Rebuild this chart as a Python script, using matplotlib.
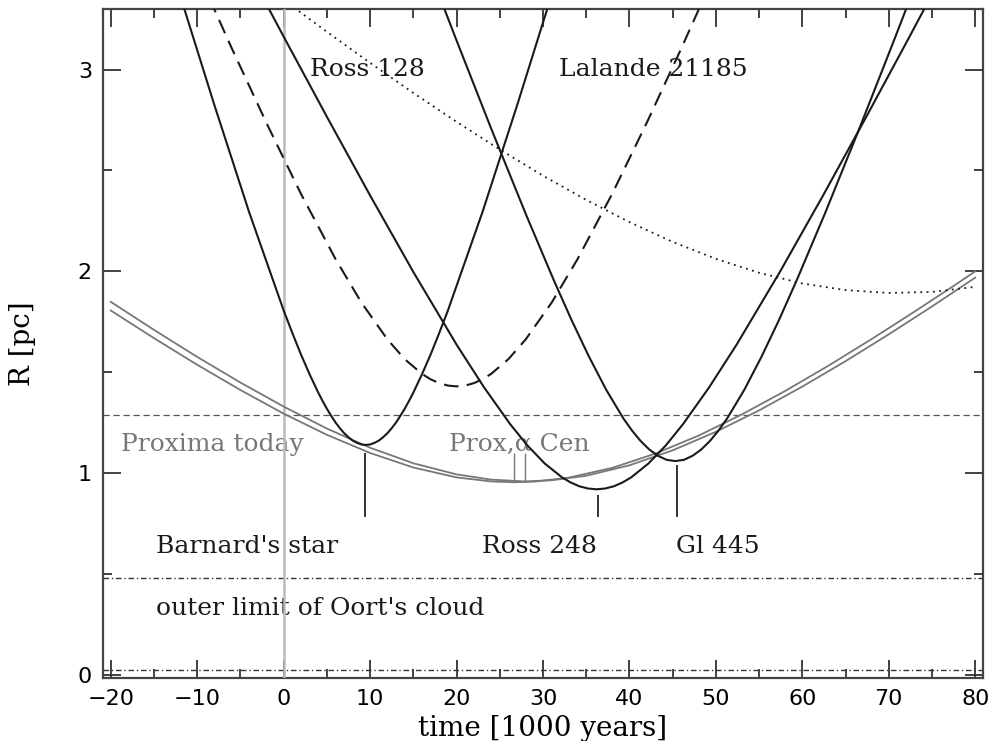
import matplotlib
matplotlib.use("Agg")
import matplotlib.pyplot as plt
from matplotlib.ticker import MultipleLocator

# ---- data (time in 1000 years, R in pc) ----
barnard_t = [-12, -8, -4, 0, 1, 2, 3, 4, 4.5, 5, 5.5, 6, 6.5, 7, 7.5, 8, 8.5, 9, 9.5, 10, 10.5, 11,
             11.5, 12, 12.5, 13, 13.5, 14, 14.5, 15, 16, 17, 18, 19, 23, 27, 31]
barnard_r = [3.370, 2.822, 2.294, 1.806, 1.695, 1.588, 1.490, 1.399, 1.358, 1.319, 1.284, 1.251, 1.223,
             1.198, 1.178, 1.161, 1.150, 1.142, 1.140, 1.142, 1.150, 1.161, 1.178, 1.198, 1.223, 1.251,
             1.284, 1.319, 1.358, 1.399, 1.490, 1.588, 1.695, 1.806, 2.294, 2.822, 3.370]

lalande_t = [-10, -6, -2, 2, 6, 9, 12, 14, 16, 17, 18, 19, 20, 21, 22, 23, 24, 26, 28, 31, 34, 38, 42, 46, 50]
lalande_r = [3.487, 3.105, 2.736, 2.384, 2.061, 1.845, 1.663, 1.565, 1.492, 1.465, 1.446, 1.434, 1.430,
             1.434, 1.446, 1.465, 1.492, 1.565, 1.663, 1.845, 2.061, 2.384, 2.736, 3.105, 3.487]

ross248_t = [-4, 0, 5, 10, 15, 20, 23.2, 26.2, 28.2, 30.2, 32.2, 33.2, 34.2, 35.2, 36.2, 37.2, 38.2,
             39.2, 40.2, 42.2, 44.2, 46.2, 49.2, 52.4, 57.4, 62.4, 67.4, 72.4, 76.4]
ross248_r = [3.485, 3.163, 2.766, 2.376, 1.997, 1.637, 1.424, 1.243, 1.137, 1.048, 0.979, 0.954, 0.935,
             0.924, 0.920, 0.924, 0.935, 0.954, 0.979, 1.048, 1.137, 1.243, 1.424, 1.637, 1.997, 2.376,
             2.766, 3.163, 3.485]

gl445_t = [16, 20, 24, 28, 31.3, 33.3, 35.3, 37.3, 39.3, 40.3, 41.3, 42.3, 43.3, 44.3, 45.3, 46.3, 47.3,
           48.3, 49.3, 50.3, 51.3, 53.3, 55.3, 57.3, 59.3, 62.6, 66.6, 70.6, 74.6]
gl445_r = [3.588, 3.144, 2.708, 2.285, 1.951, 1.759, 1.579, 1.414, 1.271, 1.211, 1.159, 1.117, 1.086,
           1.066, 1.060, 1.066, 1.086, 1.117, 1.159, 1.211, 1.271, 1.414, 1.579, 1.759, 1.951, 2.285,
           2.708, 3.144, 3.588]

ross128_t = [0, 5, 10, 15, 20, 25, 30, 35, 40, 45, 50, 55, 60, 65, 70, 75, 80]
ross128_r = [3.345, 3.187, 3.033, 2.884, 2.741, 2.604, 2.474, 2.354, 2.244, 2.146, 2.062,
             1.993, 1.940, 1.907, 1.893, 1.898, 1.923]

proxima_t = [-20, -15, -10, -5, 0, 5, 10, 15, 20, 24, 26.6, 29, 33, 38, 43, 48, 53, 58, 63, 68, 73, 78, 80]
proxima_r = [1.806, 1.669, 1.537, 1.412, 1.295, 1.190, 1.100, 1.028, 0.979, 0.959, 0.955, 0.958,
             0.978, 1.026, 1.097, 1.186, 1.291, 1.407, 1.532, 1.664, 1.801, 1.942, 2.000]

alphacen_t = [-20, -15, -10, -5, 0, 5, 10, 15, 20, 24, 27.9, 31, 35, 40, 45, 50, 55, 60, 65, 70, 75, 80]
alphacen_r = [1.849, 1.710, 1.576, 1.449, 1.330, 1.221, 1.126, 1.049, 0.994, 0.968, 0.959, 0.965,
              0.987, 1.039, 1.113, 1.205, 1.311, 1.429, 1.555, 1.688, 1.826, 1.969]

proxima_today = 1.29
oort_limit = 0.48
bottom_line = 0.025

# closest-approach markers
marker_t = [9.44, 36.4, 45.5]
marker_top = [1.10, 0.89, 1.04]
marker_bottom = [0.785, 0.785, 0.785]
prox_marker_t = [26.6, 27.9]
prox_marker_top = [1.10, 1.10]
prox_marker_bottom = [0.955, 0.959]

xticks = [-20, -10, 0, 10, 20, 30, 40, 50, 60, 70, 80]
yticks = [0, 1, 2, 3]

# ---- figure ----
fig = plt.figure(figsize=(9.94, 7.41), dpi=100)
ax = fig.add_axes([103 / 994, 1 - 678 / 741, (983 - 103) / 994, (678 - 9) / 741])

black = "#1a1a1a"
grey = "#777777"

ax.axvline(0, color="#bbbbbb", lw=1.8, zorder=3.5)
ax.axhline(proxima_today, color="#555555", lw=0.9, ls=(0, (5, 3)), zorder=1)
ax.axhline(oort_limit, color="#333333", lw=1.0, ls=(0, (4, 2, 1, 2)), zorder=1)
ax.axhline(bottom_line, color="#333333", lw=1.0, ls=(0, (4, 2, 1, 2)), zorder=1)

ax.plot(proxima_t, proxima_r, color=grey, lw=1.3, zorder=4)
ax.plot(alphacen_t, alphacen_r, color=grey, lw=1.3, zorder=4)

lw = 1.5
ax.plot(barnard_t, barnard_r, color=black, lw=lw, zorder=5)
ax.plot(lalande_t, lalande_r, color=black, lw=lw, ls=(0, (7, 4)), zorder=5)
ax.plot(ross248_t, ross248_r, color=black, lw=lw, zorder=5)
ax.plot(gl445_t, gl445_r, color=black, lw=lw, zorder=5)
ax.plot(ross128_t, ross128_r, color=black, lw=1.3, ls=(0, (1, 2.5)), zorder=5)

ax.vlines(marker_t, marker_bottom, marker_top, color="#333333", lw=1.4, zorder=5)
ax.vlines(prox_marker_t, prox_marker_bottom, prox_marker_top, color=grey, lw=1.0, zorder=5)

sfont = dict(family="DejaVu Serif", fontsize=18)
ax.text(3.1, 3.0, "Ross 128", va="center", ha="left", color=black, zorder=3, **sfont)
ax.text(31.8, 3.0, "Lalande 21185", va="center", ha="left", color=black, zorder=3, **sfont)
ax.text(-18.8, 1.14, "Proxima today", va="center", ha="left", color=grey, zorder=3, **sfont)
ax.text(19.1, 1.14, "Prox,α Cen", va="center", ha="left", color=grey, zorder=3, **sfont)
ax.text(-14.8, 0.636, "Barnard's star", va="center", ha="left", color=black, zorder=3, **sfont)
ax.text(22.9, 0.636, "Ross 248", va="center", ha="left", color=black, zorder=3, **sfont)
ax.text(45.4, 0.636, "Gl 445", va="center", ha="left", color=black, zorder=3, **sfont)
ax.text(-14.8, 0.33, "outer limit of Oort's cloud", va="center", ha="left", color=black, zorder=3, **sfont)

ax.set_xlim(-20.9, 80.9)
ax.set_ylim(-0.015, 3.30)

ax.set_xticks(xticks)
ax.set_yticks(yticks)
ax.xaxis.set_minor_locator(MultipleLocator(5))
ax.yaxis.set_minor_locator(MultipleLocator(0.5))
ax.tick_params(which="both", direction="in", top=True, right=True, color="#333333", width=1.3)
ax.tick_params(which="major", length=13, pad=8, labelsize=16)
ax.tick_params(which="minor", length=6.5)
for lab in ax.get_xticklabels() + ax.get_yticklabels():
    lab.set_family("DejaVu Sans")
ax.tick_params(axis="y", pad=8)

for s in ax.spines.values():
    s.set_linewidth(1.6)
    s.set_color("#444444")

ax.set_xlabel("time [1000 years]", family="DejaVu Serif", fontsize=20, labelpad=4)
ax.set_ylabel("R [pc]", family="DejaVu Serif", fontsize=20, labelpad=30)

fig.savefig("out.png", dpi=100)
